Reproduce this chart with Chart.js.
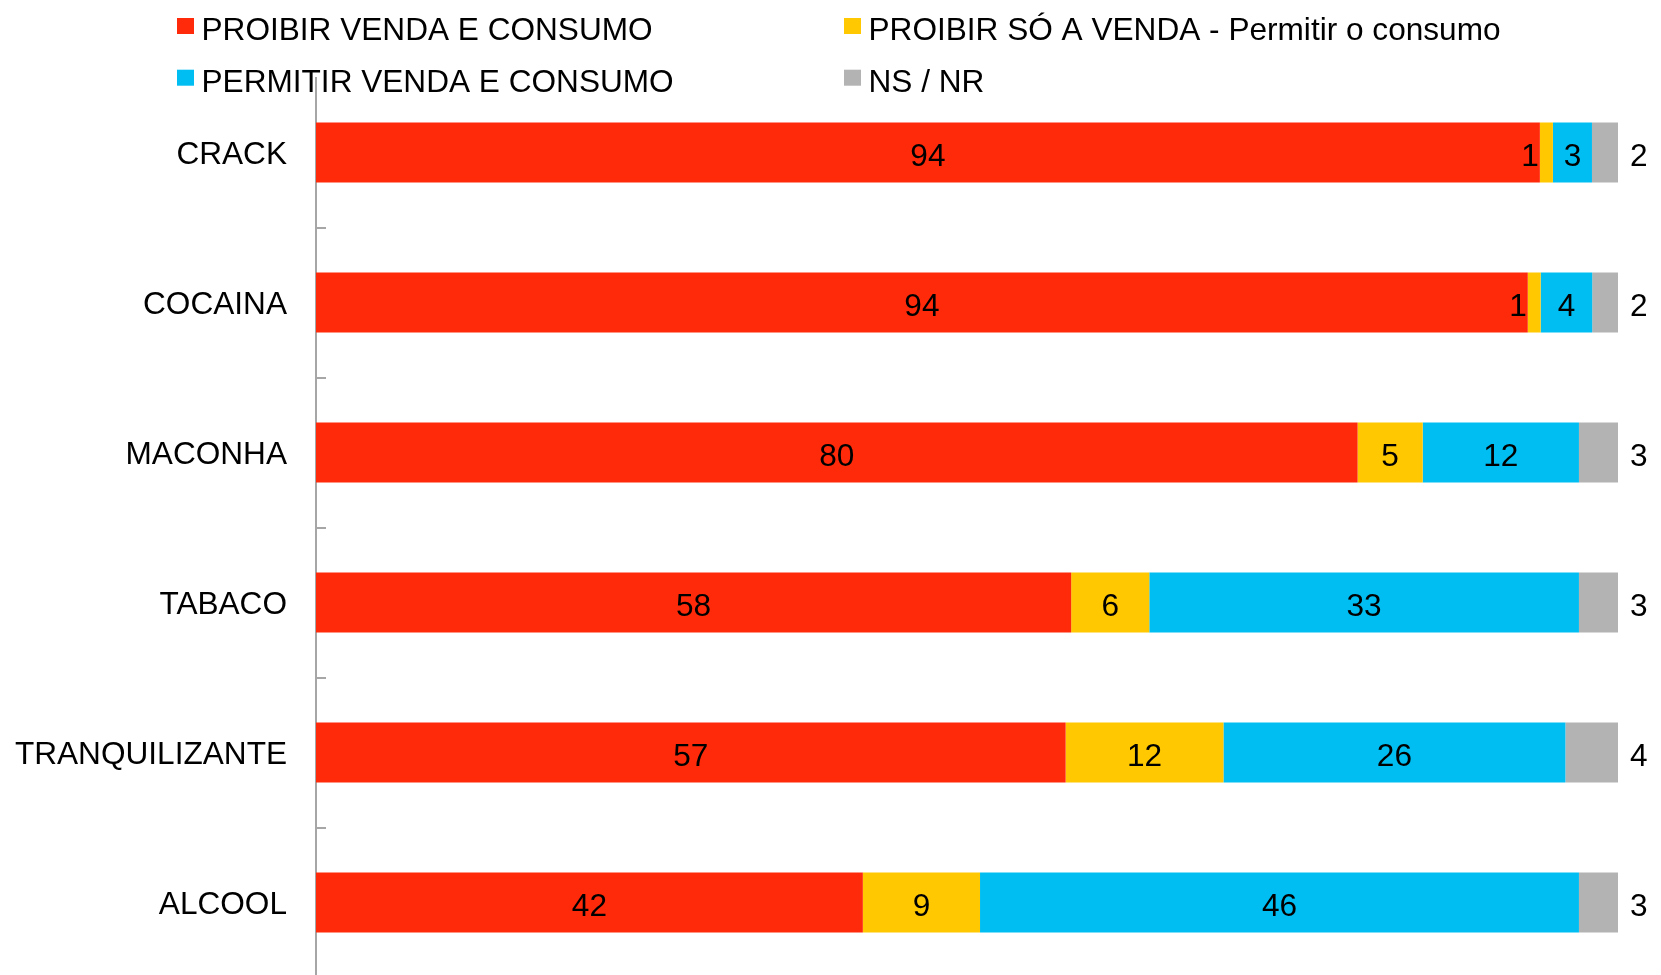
<!DOCTYPE html>
<html>
<head>
<meta charset="utf-8">
<script src="https://cdn.jsdelivr.net/npm/chart.js@4/dist/chart.umd.min.js"></script>
<style>
  html, body { margin: 0; padding: 0; background: #fff; overflow: hidden; }
  #chart { display: block; width: 1661px; height: 1000px; }
</style>
</head>
<body>
<canvas id="chart" width="1661" height="1000"></canvas>
<script>
const categories = ['CRACK', 'COCAINA', 'MACONHA', 'TABACO', 'TRANQUILIZANTE', 'ALCOOL'];
const seriesNames = [
  'PROIBIR VENDA E CONSUMO',
  'PROIBIR SÓ A VENDA - Permitir o consumo',
  'PERMITIR VENDA E CONSUMO',
  'NS / NR',
];
const proibirTudo = [94, 94, 80, 58, 57, 42];
const proibirVenda = [1, 1, 5, 6, 12, 9];
const permitirTudo = [3, 4, 12, 33, 26, 46];
const nsNr = [2, 2, 3, 3, 4, 3];

const colors = ['#ff2a0a', '#ffc800', '#00bdf2', '#b3b3b3'];
const FONT = '"Liberation Sans", Arial, sans-serif';
const FONT_SIZE = 31.6;
const AXIS_GREY = '#a6a6a6';

const series = [proibirTudo, proibirVenda, permitirTudo, nsNr];
// each row is shown as 100%: bar lengths are shares of the row total
const totals = categories.map((_, i) => series.reduce((s, arr) => s + arr[i], 0));

const datasets = series.map((values, k) => ({
  label: seriesNames[k],
  raw: values,
  data: values.map((v, i) => v / totals[i] * 100),
  backgroundColor: colors[k],
  borderWidth: 0,
  barPercentage: 0.4,
  categoryPercentage: 1,
}));

// value labels: centred in the segment, pushed left when the segment is too thin,
// and the last series written just past the end of the bar
const valueLabels = {
  id: 'valueLabels',
  afterDatasetsDraw(chart) {
    const ctx = chart.ctx;
    ctx.save();
    ctx.font = `${FONT_SIZE}px ${FONT}`;
    ctx.fillStyle = '#000';
    ctx.textBaseline = 'alphabetic';
    chart.data.datasets.forEach((ds, k) => {
      const meta = chart.getDatasetMeta(k);
      meta.data.forEach((bar, i) => {
        const text = String(ds.raw[i]);
        const w = ctx.measureText(text).width;
        const left = Math.min(bar.base, bar.x);
        const right = Math.max(bar.base, bar.x);
        const y = bar.y + 13.5;
        if (k === chart.data.datasets.length - 1) {
          ctx.textAlign = 'left';
          ctx.fillText(text, right + 12, y);
        } else if (right - left < w + 4) {
          ctx.textAlign = 'right';
          ctx.fillText(text, left - 1, y);
        } else {
          ctx.textAlign = 'center';
          ctx.fillText(text, (left + right) / 2, y);
        }
      });
    });
    ctx.restore();
  },
};

// short tick marks on the inner side of the category axis, between categories
const innerTicks = {
  id: 'innerTicks',
  afterDraw(chart) {
    const y = chart.scales.y;
    const ctx = chart.ctx;
    const x0 = chart.chartArea.left;
    ctx.save();
    ctx.strokeStyle = AXIS_GREY;
    ctx.lineWidth = 2;
    for (let i = 1; i < categories.length; i++) {
      const py = Math.round((y.getPixelForValue(i - 1) + y.getPixelForValue(i)) / 2);
      ctx.beginPath();
      ctx.moveTo(x0, py);
      ctx.lineTo(x0 + 10, py);
      ctx.stroke();
    }
    ctx.restore();
  },
};

// two-column legend above the plot
const gridLegend = {
  id: 'gridLegend',
  afterDraw(chart) {
    const ctx = chart.ctx;
    ctx.save();
    ctx.font = `${FONT_SIZE}px ${FONT}`;
    ctx.textAlign = 'left';
    ctx.textBaseline = 'alphabetic';
    chart.data.datasets.forEach((ds, k) => {
      const col = k % 2;
      const row = Math.floor(k / 2);
      const x = 177 + col * 667;
      const base = 40 + row * 51.7;
      ctx.fillStyle = ds.backgroundColor;
      ctx.fillRect(x, base - 22, 17, 16);
      ctx.fillStyle = '#000';
      ctx.fillText(ds.label, x + 24.5, base);
    });
    ctx.restore();
  },
};

new Chart(document.getElementById('chart'), {
  type: 'bar',
  data: { labels: categories, datasets },
  options: {
    indexAxis: 'y',
    responsive: false,
    animation: false,
    layout: { padding: { top: 77.5, right: 43, bottom: 22.5, left: 0 } },
    plugins: {
      legend: { display: false },
      tooltip: { enabled: false },
    },
    scales: {
      x: {
        stacked: true,
        min: 0,
        max: 100,
        display: false,
      },
      y: {
        stacked: true,
        afterFit(scale) {
          scale.width = 316;
          scale.paddingTop = 0;
          scale.paddingBottom = 0;
        },
        grid: { display: true, drawOnChartArea: false, drawTicks: false },
        border: { display: true, color: AXIS_GREY, width: 2 },
        ticks: {
          color: '#000',
          padding: 29,
          labelOffset: 3,
          font: { family: FONT, size: FONT_SIZE },
        },
      },
    },
  },
  plugins: [valueLabels, innerTicks, gridLegend],
});
</script>
</body>
</html>
